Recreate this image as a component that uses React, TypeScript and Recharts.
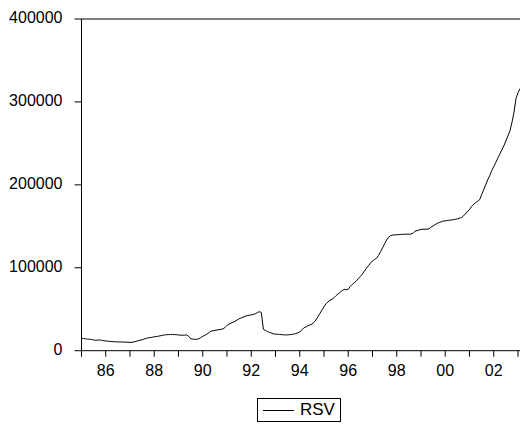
import React from 'react';
import { LineChart, Line, XAxis, YAxis, ReferenceLine, Legend } from 'recharts';

// Monthly RSV, starting January 1985 (values in thousands)
const START_YEAR = 1985;
const rsvThousands: number[] = [
  15.0, 14.6, 14.3, 14.0, 13.8, 13.5, 13.0, 12.5, 12.8, 12.9, 12.6, 12.0, // 1985
  11.8, 11.5, 11.2, 11.0, 10.8, 10.7, 10.6, 10.5, 10.5, 10.4, 10.3, 10.2, // 1986
  10.0, 10.2, 10.6, 11.2, 12.0, 12.6, 13.2, 14.0, 14.8, 15.5, 15.8, 16.2, // 1987
  16.8, 17.0, 17.5, 18.0, 18.5, 19.0, 19.2, 19.4, 19.5, 19.5, 19.4, 19.3, // 1988
  19.0, 18.7, 18.6, 18.8, 19.0, 17.5, 14.5, 14.0, 13.8, 13.7, 14.3, 15.8, // 1989
  17.3, 18.5, 19.8, 21.5, 23.5, 24.0, 24.5, 25.0, 25.3, 25.8, 26.2, 28.0, // 1990
  30.5, 32.2, 33.3, 34.3, 35.5, 37.0, 38.5, 39.5, 40.5, 41.5, 42.3, 42.7, // 1991
  43.2, 43.8, 44.5, 46.0, 47.1, 46.0, 25.8, 24.5, 23.0, 22.2, 21.3, 20.3, // 1992
  20.0, 19.8, 19.6, 19.4, 19.2, 19.0, 19.1, 19.3, 19.6, 20.0, 20.6, 21.5, // 1993
  22.5, 25.0, 27.5, 28.5, 30.0, 31.0, 32.0, 34.0, 37.0, 41.0, 45.0, 49.0, // 1994
  53.0, 56.5, 59.0, 61.0, 62.0, 64.0, 66.5, 68.5, 70.5, 72.5, 74.0, 73.5, // 1995
  74.0, 77.5, 80.0, 82.0, 84.0, 87.0, 89.5, 92.5, 96.0, 99.4, 102.5, 105.5, // 1996
  108.3, 110.0, 111.5, 115.0, 119.5, 124.0, 129.0, 133.5, 137.0, 138.8, 139.5, 139.6, // 1997
  139.8, 140.0, 140.2, 140.3, 140.4, 140.5, 140.5, 140.6, 141.5, 144.0, 144.8, 145.5, // 1998
  146.3, 146.5, 146.5, 146.5, 147.0, 149.0, 150.5, 152.0, 153.5, 154.5, 155.5, 156.3, // 1999
  156.6, 157.0, 157.3, 157.7, 158.0, 158.5, 159.0, 159.8, 160.5, 162.5, 165.0, 168.0, // 2000
  170.0, 174.0, 176.5, 178.5, 180.0, 182.0, 188.0, 194.0, 200.0, 206.0, 211.0, 217.0, // 2001
  222.0, 227.0, 232.0, 237.0, 242.0, 247.0, 253.0, 259.0, 265.0, 275.0, 287.0, 304.0, // 2002
  311.0, 316.0, // 2003
];

const xTickYears = [1985, 1986, 1987, 1988, 1989, 1990, 1991, 1992, 1993, 1994, 1995, 1996, 1997, 1998, 1999, 2000, 2001, 2002, 2003];
const xTickLabels: Record<number, string> = {
  1986: '86', 1988: '88', 1990: '90', 1992: '92', 1994: '94',
  1996: '96', 1998: '98', 2000: '00', 2002: '02',
};
const yTicks = [0, 100000, 200000, 300000, 400000];
const seriesName = 'RSV';

const data = rsvThousands.map((v, i) => ({ t: START_YEAR + i / 12, RSV: v * 1000 }));
const lastT = START_YEAR + (rsvThousands.length - 1) / 12;

const FONT = '"Liberation Sans", Arial, sans-serif';

const LegendBox = (props: any) => {
  const name = props?.payload?.[0]?.value ?? seriesName;
  return (
    <div
      style={{
        boxSizing: 'border-box',
        width: 84,
        height: 24,
        border: '1px solid #000',
        display: 'flex',
        alignItems: 'center',
        fontFamily: FONT,
        fontSize: 17,
        color: '#000',
        background: '#fff',
      }}
    >
      <span style={{ display: 'inline-block', width: 31, borderTop: '1px solid #000', marginLeft: 5, marginRight: 6 }} />
      <span>{name}</span>
    </div>
  );
};

export default function App() {
  return (
    <div style={{ position: 'absolute', left: 0, top: 0, width: 520, height: 425, overflow: 'hidden' }}>
      <LineChart width={520} height={425} data={data} margin={{ top: 19, right: 0, bottom: 0, left: 0 }}>
        <XAxis
          dataKey="t"
          type="number"
          domain={[START_YEAR, lastT]}
          allowDataOverflow
          ticks={xTickYears}
          interval={0}
          tickFormatter={(v: number) => xTickLabels[Math.round(v)] ?? ''}
          tickSize={6}
          tickMargin={8}
          height={74.3}
          axisLine={{ stroke: '#000' }}
          tickLine={{ stroke: '#000' }}
          tick={{ fontFamily: FONT, fontSize: 16, fill: '#000' }}
        />
        <YAxis
          type="number"
          domain={[0, 400000]}
          ticks={yTicks}
          interval={0}
          width={81.5}
          tickSize={7}
          tickMargin={12}
          axisLine={{ stroke: '#000' }}
          tickLine={{ stroke: '#000' }}
          tick={{ fontFamily: FONT, fontSize: 16, fill: '#000', dy: -1.5 }}
        />
        <ReferenceLine y={400000} stroke="#000" strokeWidth={1} />
        <Line
          type="linear"
          dataKey="RSV"
          name={seriesName}
          stroke="#000"
          strokeWidth={1}
          dot={false}
          isAnimationActive={false}
        />
        <Legend
          layout="vertical"
          align="center"
          verticalAlign="middle"
          content={<LegendBox />}
          wrapperStyle={{ left: 257, top: 398, width: 84, height: 24 }}
        />
      </LineChart>
    </div>
  );
}
